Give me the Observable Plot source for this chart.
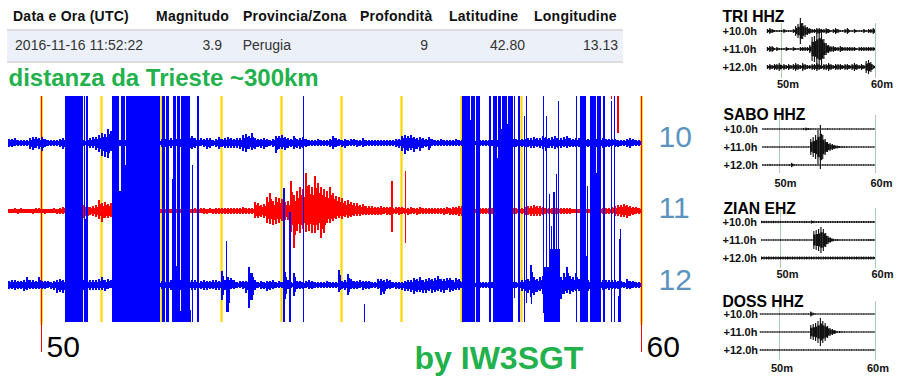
<!DOCTYPE html>
<html>
<head>
<meta charset="utf-8">
<script src="https://cdn.jsdelivr.net/npm/d3@7"></script>
<script src="https://cdn.jsdelivr.net/npm/@observablehq/plot@0.6"></script>
<style>
html,body{margin:0;padding:0;background:#fff}
#page{position:relative;width:903px;height:384px;overflow:hidden;font-family:"Liberation Sans",Arial,sans-serif}
#page svg{position:absolute;background:transparent}
.cell{position:absolute;font-size:14px;line-height:16px;white-space:nowrap}
.head{font-weight:bold;color:#111;top:8px;letter-spacing:.25px}
.val{color:#333;top:37px}
#band{position:absolute;left:7px;top:29px;width:616px;height:30px;background:#ecf0f8;border-top:2px solid #ddd;border-bottom:2px solid #ddd}
</style>
</head>
<body>
<div id="page"><div id="band"></div></div>
<script>
// Event table
const tableHeaders = ["Data e Ora (UTC)", "Magnitudo", "Provincia/Zona", "Profondità", "Latitudine", "Longitudine"];
const tableValues = ["2016-11-16 11:52:22", "3.9", "Perugia", "9", "42.80", "13.13"];

// Helicorder: seconds after minute 50; one bin every 3 s from -33 s
const binStart = -33, binSize = 3;
const up10 = [
4,4,5,3,3,3,3,5,6,6, 5,6,4,3,3,3,3,4,5,5, 4,3,3,3,3,3,4,5,6,6,
8,10,9,14,12,10,6,3,3,3, 3,3,3,3,3,3,3,3,3,3, 3,4,4,4,5,4,4,4,4,8,
8,7,5,4,5,4,5,5,3,4, 6,4,5,6,5,4,5,5,8,9, 7,10,5,4,4,5,4,3,4,7,
7,8,6,5,4,7,4,5,6,4, 3,3,3,4,3,3,3,4,7,5, 4,3,4,3,4,4,3,3,5,3,
3,3,3,3,3,3,3,3,3,4, 4,7,8,7,8,6,5,6,5,4, 6,4,3,3,4,3,3,3,3,4,
3,3,3,3,3,3,3,3,3,3, 3,3,3,3,4,4,5,4,4,4, 4,4,4,5,5,6,5,5,7,6,
5,6,7,5,5,6,7,5,4,5, 5,4,4,4,5,4,4,5,5,4, 4,4,4,3,3,3,4,5,4,3, 3];
const down10 = [
4,4,3,3,3,3,3,6,7,5, 6,8,4,3,3,3,3,4,6,5, 3,3,3,3,3,3,4,5,5,7,
9,13,14,15,8,6,4,3,3,3, 3,3,3,3,3,3,3,3,3,3, 3,4,4,4,5,4,3,4,4,8,
7,6,5,4,3,4,6,5,3,4, 6,4,5,5,5,5,5,6,8,9, 6,7,6,4,5,6,4,3,4,10,
6,6,7,5,4,6,5,6,5,4, 3,3,3,3,3,3,3,4,6,4, 3,4,5,3,3,3,4,3,4,3,
3,3,3,3,3,3,3,3,3,4, 5,8,11,8,7,9,6,8,5,4, 7,3,3,3,3,3,3,3,3,3,
3,3,3,3,3,3,3,3,3,3, 3,3,3,4,4,5,4,4,4,4, 4,4,4,4,5,5,4,5,6,8,
5,5,6,5,5,4,5,4,4,4, 4,4,4,4,5,4,4,4,5,4, 4,3,4,4,3,3,4,5,3,3, 3];
const up11 = [
2,2,3,2,3,2,2,2,2,3, 3,2,2,2,2,3,2,3,4,6, 6,6,6,6,6,6,6,4,5,6,
11,8,9,7,8,6,7,7,5,5, 3,3,3,3,3,3,3,3,3,3, 3,2,2,2,2,2,2,2,2,2,
2,2,3,2,3,3,2,3,2,3, 3,3,3,3,3,3,3,3,4,3, 3,3,9,8,6,7,14,18,10,14,
13,12,9,10,30,16,20,24,22,38, 26,24,35,28,24,22,20,24,18,15, 14,13,10,11,9,8,8,6,7,5,
5,5,4,4,5,4,4,4,3,4, 4,4,3,3,4,3,3,4,3,3, 3,3,3,3,3,3,4,3,4,4,
5,5,5,3,3,3,3,3,3,3, 3,3,3,3,3,3,3,3,3,3, 3,3,4,5,5,6,5,5,4,3,
3,3,3,3,3,3,3,3,2,2, 2,2,2,2,2,3,3,3,3,3, 3,4,5,6,6,7,6,5,4,4, 3];
const down11 = [
2,2,2,3,2,2,2,2,3,2, 2,2,3,2,2,2,3,3,3,4, 7,7,7,7,7,7,7,4,5,6,
8,11,7,7,6,8,6,6,4,4, 3,3,3,3,3,3,3,3,3,3, 3,2,2,2,2,2,2,2,2,2,
2,2,2,3,2,3,3,2,3,3, 3,3,3,3,3,3,3,3,3,3, 3,3,7,7,6,7,12,13,14,13,
12,10,9,9,21,37,20,22,18,21, 20,22,22,19,27,22,12,12,10,8, 7,8,6,7,6,5,5,5,4,4,
4,4,4,4,4,3,4,4,3,3, 4,3,3,4,3,3,4,3,3,3, 3,3,3,3,3,4,3,4,4,4,
5,5,5,3,3,3,3,3,3,3, 3,3,3,3,3,3,3,3,3,3, 3,3,4,4,5,5,5,5,4,3,
3,3,3,3,3,3,3,3,2,2, 2,2,2,2,2,3,3,3,3,3, 3,3,5,5,6,6,7,5,4,3, 3];
const up12 = [
4,5,5,4,4,5,8,5,5,4, 8,4,4,4,3,4,5,6,5,7, 5,5,5,5,5,5,5,5,5,5,
6,8,5,6,5,4,4,4,4,3, 3,3,3,3,3,3,3,3,3,3, 3,4,3,4,5,4,4,5,4,4,
5,5,5,3,4,5,4,4,5,5, 4,14,5,8,7,5,3,4,4,4, 18,12,5,3,4,3,4,4,5,3,
4,3,13,5,3,12,4,4,3,4, 5,4,3,3,3,3,4,3,3,3, 15,4,5,11,6,4,4,5,4,4,
4,3,3,6,6,5,6,5,3,3, 3,3,4,5,5,7,6,8,5,6, 7,6,7,9,6,6,7,7,5,7,
6,3,3,3,3,3,3,3,3,3, 3,3,3,3,3,3,3,3,3,3, 4,5,5,6,20,8,6,8,9,7,
8,9,9,9,8,12,18,9,8,12, 6,5,5,5,5,5,5,5,5,5, 5,5,5,4,4,3,6,4,4,3, 3];
const down12 = [
4,4,5,4,4,6,5,4,4,4, 4,4,4,3,4,5,8,7,8,9, 5,5,5,5,5,5,5,5,5,5,
5,5,6,4,3,4,3,3,3,3, 3,3,3,3,3,3,3,3,3,3, 3,4,3,4,5,4,4,5,4,4,
5,5,5,4,4,5,5,4,4,5, 5,15,5,27,4,4,3,3,4,8, 23,15,5,3,4,4,6,5,4,3,
3,3,14,4,3,11,4,4,4,3, 4,4,3,3,3,3,3,3,3,3, 7,4,5,10,4,4,4,3,5,4,
4,3,3,4,10,9,4,4,3,4, 4,5,6,6,7,9,7,7,8,8, 6,8,7,6,7,8,5,7,6,5,
5,3,3,3,3,3,3,3,3,3, 3,3,3,3,3,3,3,3,3,3, 4,6,6,8,12,10,7,6,9,7,
8,9,10,8,14,9,8,9,7,6, 6,5,5,6,5,6,4,5,5,4, 5,4,4,4,3,3,4,4,3,3, 3];
const traceBase = [0, -68, -142];
const minuteMarks = [0, 60, 120, 180, 240, 300, 360, 420, 480, 540, 600];
const endMarks = [0, 600];
const endLabels = ["50", "60"];
const hourLabels = ["10", "11", "12"];
const hourLabelY = [6, -65, -137];

// Clipped blue traces (saturated sweeps)
const spikeStart = [24,43,44,45,71,78,80,84,85,121,125,131,132,135,136,139,140,149,151,156,185,242,248,262,323,421,429,430,435,448,452,456,457,460,461,463,463,466,467,467,468,471,471,473,477,483,485,490,502,503,505,506,508,509,510,512,511,515,516,517,535,539,546,545,549,555,556,562,570,573,578,579,577];
const spikeEnd = [42,44,45,47,78,80,84,85,119,124,128,132,135,136,139,140,149,150,152,158,186,244,250,263,324,429,430,434,439,450,456,457,460,461,463,464,466,467,468,468,471,472,472,474,479,484,486,491,503,505,506,508,509,510,511,514,515,516,519,518,536,545,547,547,555,556,560,564,571,574,579,580,580];
const spikeTop = [47,47,-76,47,47,-48,47,-22,47,47,47,-36,47,-123,47,-168,47,-167,-22,47,-98,-45,-69,47,-161,47,23,47,47,47,47,-15,47,14,47,-88,47,19,47,-91,47,-91,47,47,47,27,47,-122,47,-124,27,-124,-51,-106,-83,-49,-106,-31,-106,42,47,47,-43,-113,47,-30,47,47,42,47,-96,-86,-153];
const spikeBottom = [-179,-179,-179,-179,-179,-179,-179,-179,-179,-179,-179,-179,-179,-179,-179,-179,-179,-179,-179,-179,-169,-179,-179,-179,-179,-179,-179,-179,-179,-179,-179,-179,-179,-179,-179,-179,-179,-179,-179,-179,-179,-179,-179,-155,-179,-179,-160,-161,-170,-179,-179,-179,-179,-179,-179,-179,-179,-179,-179,-179,-179,-179,-179,-179,-179,-179,-179,-179,-179,-179,-179,-179,-179];
// Red transients
const redStart = [350, 364, 576, 570];
const redEnd = [352, 365, 578, 571];
const redTop = [-38, -28, 47, 47];
const redBottom = [-89, -100, 10, 44];

// Small station panels: envelope per 0.25 min
const stationNames = ["TRI HHZ", "SABO HHZ", "ZIAN EHZ", "DOSS HHZ"];
const stationStart = [48.5, 48.25, 48, 48];
const triRows = [
[2,3,2,1,1,1,1,2,1,1,1,2,5,7,13,8,6,4,3,2,2,3,3,2,2,3,2,1,2,3,2,1,1,2,3,1,1,2,1,1,1,2,1,2,2,3],
[2,3,3,1,2,1,1,1,2,1,1,2,1,1,2,2,2,2,4,12,13,16,18,16,10,6,4,3,3,2,2,3,2,2,2,2,2,2,1,2,2,2,2,2,2,2],
[2,3,2,3,3,4,2,3,2,3,2,3,4,3,2,4,3,2,2,3,3,4,3,2,3,3,4,3,2,3,3,3,2,3,3,2,3,4,3,2,3,2,6,7,5,2]];
const saboRows = [
[.5,.5,.5,.5,.5,.5,.5,.5,.6,.6,.5,.5,.6,.5,.5,.5,.6,1,1.5,1,.8,.6,.5,.5,.6,.5,.5,.8,.6,.5,.5,.5,.6,.5,.5,.5,.6,.5,.5,.5,.5,.5,.5,.5,.5,.5,.5],
[.5,.5,.5,.5,.5,.5,.5,.5,.6,.5,.5,.5,.6,.5,.5,.5,.5,.5,.6,.5,8,10,12,17,22,12,8,5,4,3,2,1.5,1,1,.8,.8,.6,.6,.6,.5,.6,.5,.5,.5,.6,.5,.5],
[.7,.7,.7,1,.7,.7,.8,.7,.7,.7,.7,1,2.2,1,.7,.7,.7,.6,.6,.6,.6,.6,.6,.7,.6,.6,.6,.6,.6,.6,.6,.6,.7,.6,.6,.6,.6,.6,.6,.6,.6,.6,.6,.6,.6,.6,.6]];
const zianRows = [
[1.2,1.2,1.2,1.1,1.2,1.2,1.1,1.2,1,1,1,1,1,1,1,1,1,1,1.1,1,1,1.6,1.2,1,1,1,1,1,1,1,1,1,1,1,1,1,1,1,1,1,1,1,1,1,1,1,1,1],
[.6,.6,.6,.6,.6,.6,.6,.6,.8,.6,.6,.6,.6,.6,.8,.6,.6,.6,.6,.6,.6,.6,9,10,11,13,11,7,4,2.5,1.5,1,1,.8,.8,.7,.7,.7,.7,.7,.7,.8,.8,.8,.9,1,1,1],
[1.5,1.5,1.5,1.6,1.5,1.5,1.5,1.5,1.5,1.5,1.5,1.6,1.5,1.5,1.5,1.5,1.5,1.5,1.5,1.5,1.5,1.5,1.5,1.5,1.5,1.5,1.5,1.5,1.5,1.5,1.5,1.5,1.5,1.5,1.5,1.5,1.5,1.5,1.5,1.5,1.5,1.5,1.5,1.5,1.5,1.5,1.5,1.5]];
const dossRows = [
[.4,.4,.4,.4,.5,.4,.4,.4,.5,.4,.4,.4,.5,.4,.4,.4,.5,.4,.5,.5,.6,2.5,1.2,.5,.4,.4,.4,.4,.4,.4,.4,.4,.4,.4,.4,.4,.4,.4,.4,.4,.4,.4,.4,.4,.4,.4,.4,.4],
[.4,.4,.4,.4,.4,.4,.4,.4,.4,.4,.4,.4,.4,.4,.4,.4,.4,.4,.4,.4,.4,7,8,9,11,14,11,9,6,4,3,2,1,1,.8,.6,.5,.5,.5,.5,.5,.4,.4,.4,.4,.4,.4,.4],
[.6,.6,.6,.6,.6,.6,.6,.6,.6,.6,.6,.6,.6,.6,.6,.6,.6,.6,.6,.6,.6,.6,.6,.6,.6,.6,.6,.6,.6,.6,.6,.6,.6,.6,.6,.6,.6,.6,.6,.6,.6,.6,.6,.6,.6,.6,.6,.6]];
const stationRows = [triRows, saboRows, zianRows, dossRows];
const panelHours = ["+10.0h", "+11.0h", "+12.0h"];
const panelRowOffset = [0, 18, 36];
const panelTicks = [50, 60];

const fontFamily = '"Liberation Sans", Arial, sans-serif';
const page = document.getElementById("page");

// table
const headX = [13, 156, 243, 360, 449, 534];
const valRight = [143, 222, 291, 428, 525, 618];
tableHeaders.forEach((t, i) => {
  const h = document.createElement("div");
  h.className = "cell head"; h.textContent = t; h.style.left = headX[i] + "px";
  page.appendChild(h);
  const v = document.createElement("div");
  v.className = "cell val"; v.textContent = tableValues[i];
  v.style.right = (903 - valRight[i]) + "px";
  page.appendChild(v);
});

// main helicorder: solid inner body, narrow peak column reaching the full envelope
const peakWidth = 1.5, bodyShare = 0.65;
function bins(up, down, base) {
  return up.flatMap((u, i) => {
    const x = binStart + i * binSize;
    return [
      {x1: x, x2: x + binSize, y1: base + Math.max(u * bodyShare, 2), y2: base - Math.max(down[i] * bodyShare, 2)},
      {x1: x, x2: x + peakWidth, y1: base + u, y2: base - down[i]}
    ];
  });
}
const spikes = spikeStart.map((s, i) => ({x1: s, x2: spikeEnd[i], y1: spikeTop[i], y2: spikeBottom[i]}));
const redSpikes = redStart.map((s, i) => ({x1: s, x2: redEnd[i], y1: redTop[i], y2: redBottom[i]}));
const blueBins = [...bins(up10, down10, traceBase[0]), ...bins(up12, down12, traceBase[2])];
const redBins = bins(up11, down11, traceBase[1]);
const rectOpts = f => ({x1: "x1", x2: "x2", y1: "y1", y2: "y2", fill: f, shapeRendering: "crispEdges"});

const main = Plot.plot({
  width: 903, height: 384, margin: 0,
  style: {background: "transparent", fontFamily},
  x: {domain: [-41, 862], range: [0, 903], axis: null},
  y: {domain: [143, -241], range: [0, 384], axis: null},
  marks: [
    Plot.ruleX(minuteMarks, {x: d => d, y1: 47, y2: -179, stroke: "#ffd700", strokeWidth: 2.2}),
    Plot.ruleX(endMarks, {x: d => d, y1: 47, y2: -182, stroke: "#ffd700", strokeWidth: 2.2}),
    Plot.ruleX(endMarks, {x: d => d, y1: 47, y2: -209, stroke: "#ff0000", strokeWidth: 1}),
    Plot.rect(redBins, rectOpts("#ff0000")),
    Plot.rect(redSpikes, rectOpts("#ff0000")),
    Plot.rect(spikes, rectOpts("#0000ff")),
    Plot.rect(blueBins, rectOpts("#0000ff")),
    Plot.text(hourLabels, {text: d => d, x: 617, y: (d, i) => hourLabelY[i], textAnchor: "start", fontSize: 30, fill: "#5b94c0"}),
    Plot.text(endLabels, {text: d => d, x: (d, i) => endMarks[i] + 5, y: -204, textAnchor: "start", fontSize: 30, fill: "#000"}),
    Plot.text(["by IW3SGT"], {x: 373, y: -215, textAnchor: "start", fontSize: 32, fontWeight: "bold", fill: "#22b14c"}),
    Plot.text(["distanza da Trieste ~300km"], {x: -33, y: 65, textAnchor: "start", fontSize: 24, fontWeight: "bold", fill: "#22b14c"})
  ]
});
page.appendChild(main);

// station panels
const panelLayout = [
  {top: 0,   g50: 66, g60: 160, titleX: 7,  labelX: 7,  gridTop: -8,  gridBottom: 47, titleY: -15, tickY: 53, dx: 6.5},
  {top: 98,  g50: 64, g60: 160, titleX: 8,  labelX: 8,  gridTop: -14, gridBottom: 44, titleY: -15, tickY: 54, dx: 6},
  {top: 191, g50: 65, g60: 160, titleX: 8,  labelX: 7,  gridTop: -14, gridBottom: 46, titleY: -14, tickY: 52, dx: 7},
  {top: 283, g50: 64, g60: 160, titleX: 7,  labelX: 8,  gridTop: -13, gridBottom: 46, titleY: -13, tickY: 54, dx: 2.5}
];
stationNames.forEach((name, p) => {
  const L = panelLayout[p];
  const data = [];
  stationRows[p].forEach((row, r) => {
    row.forEach((a, i) => {
      const x = stationStart[p] + i * 0.25;
      const body = Math.max(a * 0.6, 0.5);
      data.push({x1: x, x2: x + 0.25, y1: panelRowOffset[r] - body, y2: panelRowOffset[r] + body});
      data.push({x1: x, x2: x + 0.12, y1: panelRowOffset[r] - a, y2: panelRowOffset[r] + a});
    });
  });
  const chart = Plot.plot({
    width: 188, height: 101, margin: 0,
    style: {background: "transparent", fontFamily},
    x: {domain: [50, 60], range: [L.g50, L.g60], axis: null},
    y: {domain: [-31, 70], range: [0, 101], axis: null},
    marks: [
      Plot.ruleX(panelTicks, {x: d => d, y1: L.gridTop, y2: L.gridBottom, stroke: "#a9cfa9", strokeWidth: 1}),
      Plot.rect(data, {x1: "x1", x2: "x2", y1: "y1", y2: "y2", fill: "#111"}),
      Plot.text([name], {frameAnchor: "left", dx: L.titleX, y: L.titleY, textAnchor: "start", fontSize: 15.7, fontWeight: "bold", fill: "#000"}),
      Plot.text(panelHours, {frameAnchor: "left", dx: L.labelX, y: (d, i) => panelRowOffset[i], textAnchor: "start", fontSize: 11, fontWeight: "bold", fill: "#111"}),
      Plot.text(panelTicks, {x: d => d, dx: L.dx, y: L.tickY, text: d => d + "m", fontSize: 11, fontWeight: "bold", fill: "#111"})
    ]
  });
  chart.style.left = "715px";
  chart.style.top = L.top + "px";
  page.appendChild(chart);
});
</script>
</body>
</html>
